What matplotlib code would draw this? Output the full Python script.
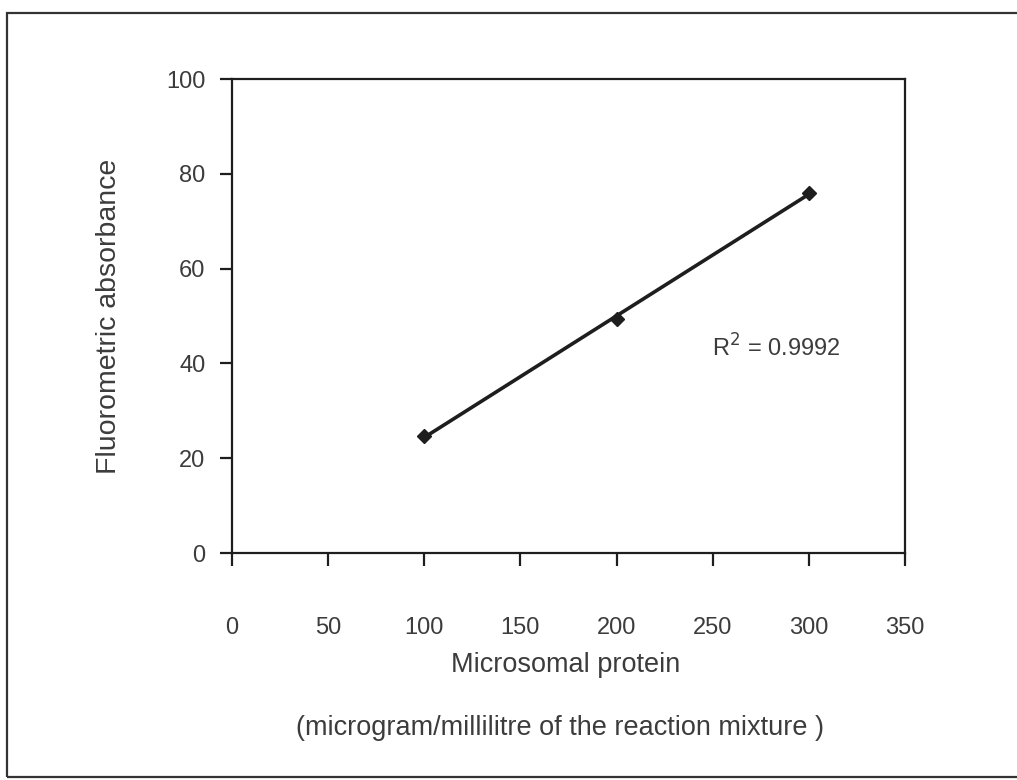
import numpy as np
import matplotlib.pyplot as plt
from matplotlib.patches import Rectangle

plt.rcParams['font.family'] = ['Liberation Sans', 'DejaVu Sans']

# data
protein = [100, 200, 300]
absorbance = [24.7, 49.4, 76.0]
r2_text = 'R$^2$ = 0.9992'

xticks = [0, 50, 100, 150, 200, 250, 300, 350]
yticks = [0, 20, 40, 60, 80, 100]

ink = '#1e1e1e'
grey = '#3c3c3c'

fig = plt.figure(figsize=(10.17, 7.8), dpi=100)
ax = fig.add_axes([232/1017, 1 - 553/780, (905-232)/1017, (553-79)/780])

# outer frame of the scanned page
fig.patches.append(Rectangle((7/1017, 3/780), 1.2, 764/780, transform=fig.transFigure,
                             fill=False, edgecolor='#333333', linewidth=1.6))

reg = np.polyfit(protein, absorbance, 1)
droite = np.poly1d(reg)
xs = np.array([protein[0], protein[-1]])
ax.plot(xs, droite(xs), '-', color=ink, linewidth=2.6, zorder=2)
ax.plot(protein, absorbance, 'D', color=ink, markersize=7, zorder=3)

ax.set_xlim(0, 350)
ax.set_ylim(0, 100)
ax.set_xticks(xticks)
ax.set_yticks(yticks)
ax.tick_params(axis='x', direction='out', length=9, width=1.6, pad=37,
               labelsize=17, labelcolor=grey, color=ink)
ax.tick_params(axis='y', direction='out', length=9, width=1.6, pad=10,
               labelsize=17, labelcolor=grey, color=ink)
for s in ax.spines.values():
    s.set_linewidth(1.6)
    s.set_color(ink)

ax.text(0.713, 0.415, r2_text, transform=ax.transAxes, fontsize=17, color=grey)

ax.set_ylabel('Fluorometric absorbance', fontsize=20.5, color=grey, labelpad=32)
fig.text(566/1017, 1 - 665/780, 'Microsomal protein', fontsize=19.5, color=grey,
         ha='center', va='center')
fig.text(560/1017, 1 - 728/780, '(microgram/millilitre of the reaction mixture )',
         fontsize=19.5, color=grey, ha='center', va='center')

plt.savefig('out.png', dpi=100)
